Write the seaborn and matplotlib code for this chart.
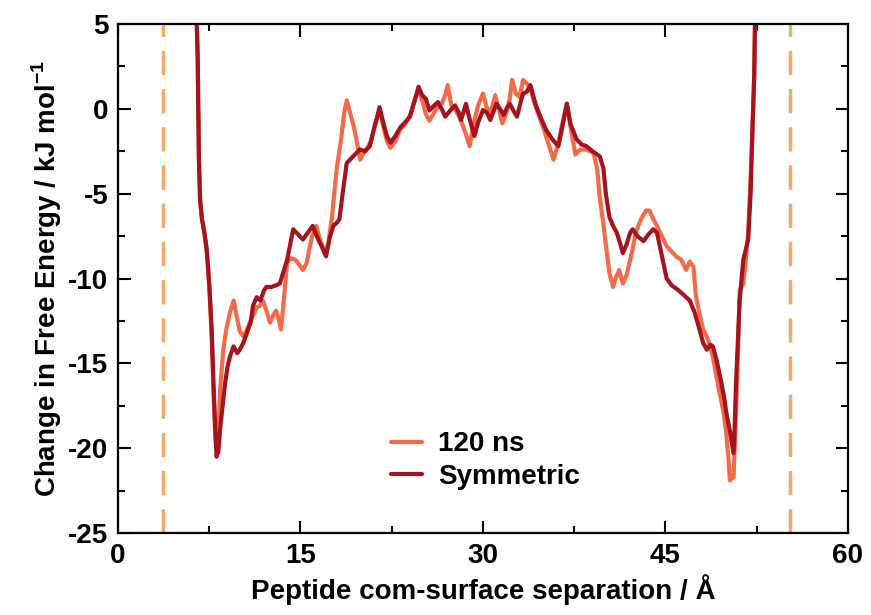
import numpy as np
import pandas as pd
import matplotlib
matplotlib.use("Agg")
import matplotlib.pyplot as plt
import seaborn as sns
from matplotlib.ticker import MultipleLocator
from matplotlib.lines import Line2D

# ---- data ----
sym_x = [6.4, 6.55, 6.6, 6.65, 6.75, 6.9, 7.1, 7.3, 7.5, 7.7, 7.85, 8.0, 8.1, 8.25, 8.4, 8.6, 8.8, 9.0, 9.2, 9.5,
         9.8, 10.0, 10.3, 10.6, 10.9, 11.1, 11.4, 11.7, 12.0, 12.2, 12.6, 13.0, 13.3, 13.6, 13.9, 14.2, 14.4, 14.8,
         15.2, 15.6, 16.0, 16.4, 16.8, 17.1, 17.4, 17.7, 18.0, 18.2, 18.5, 18.8, 19.2, 19.6, 19.9, 20.3, 20.7, 21.0,
         21.3, 21.5, 21.8, 22.1, 22.4, 22.8, 23.2, 23.6, 24.0, 24.4, 24.7, 25.0, 25.3, 25.6, 26.0, 26.3, 26.6, 26.9,
         27.3, 27.7, 28.0, 28.2, 28.6, 28.9, 29.3, 29.6, 30.0, 30.3, 30.6, 30.9, 31.1, 31.4, 31.7, 32.0, 32.2, 32.5,
         32.8, 33.1, 33.3, 33.6, 33.9, 34.2, 34.4, 34.8, 35.2, 35.7, 36.2, 36.6, 36.9, 37.2, 37.7, 38.1, 38.5, 39.0,
         39.6, 39.9, 40.1, 40.4, 40.7, 41.0, 41.3, 41.5, 41.8, 42.1, 42.3, 42.7, 43.2, 43.6, 44.0, 44.3, 44.6, 45.1,
         45.5, 45.9, 46.4, 47.0, 47.4, 47.8, 48.1, 48.4, 48.7, 48.9, 49.2, 49.5, 49.8, 50.0, 50.3, 50.6, 50.7, 50.8,
         51.0, 51.1, 51.4, 51.8, 52.0, 52.1, 52.3, 52.4]
sym_y = [7, 3, 0, -3, -5.4, -6.5, -7.3, -8.3, -10.3, -13, -16.2, -19, -20.5, -20.2, -18.8, -17.5, -16.2, -15.2, -14.6, -14.0,
         -14.4, -14.2, -13.8, -13.2, -12.6, -11.6, -11.1, -11.3, -10.7, -10.5, -10.5, -10.4, -10.3, -9.6, -8.9, -7.8, -7.1, -7.4,
         -7.7, -7.3, -6.9, -7.6, -8.2, -8.7, -7.6, -6.9, -6.7, -6.5, -4.8, -3.2, -2.9, -2.6, -2.4, -2.5, -2.2, -1.3,
         -0.5, 0.1, -0.8, -1.6, -2.0, -1.6, -1.1, -0.8, -0.46, 0.5, 1.3, 0.8, 0.6, -0.1, 0.2, 0.4, 0.0, -0.46,
         -0.1, 0.2, -0.2, -0.66, 0.3, -0.6, -1.6, -0.8, -0.07, -0.2, -0.66, -0.1, 0.3, 0.0, -0.36, 0.1, 0.3, -0.1,
         -0.46, 0.4, 0.9, 1.0, 1.4, 0.6, 0.1, -0.6, -1.25, -1.8, -2.2, -0.8, 0.3, -0.9, -1.8, -2.1, -2.2, -2.5,
         -2.8, -3.5, -5.0, -6.4, -6.9, -7.3, -8.0, -8.5, -8.0, -7.3, -7.1, -7.5, -7.8, -7.4, -7.1, -7.3, -8.3, -10.0,
         -10.4, -10.6, -10.9, -11.3, -12.0, -13.0, -13.8, -14.2, -13.9, -14.0, -14.8, -15.8, -16.9, -17.9, -19.0, -20.3, -18.5, -16.2,
         -13, -11.3, -8.9, -7.7, -5.0, -2.4, 2, 7]

ns_x = [6.4, 6.55, 6.6, 6.65, 6.75, 6.9, 7.1, 7.3, 7.5, 7.7, 7.85, 8.0, 8.1, 8.25, 8.4, 8.65, 8.9, 9.2, 9.5, 9.8,
        10.0, 10.3, 10.6, 10.9, 11.1, 11.4, 11.7, 11.9, 12.2, 12.5, 12.8, 13.0, 13.2, 13.4, 13.6, 13.9, 14.2, 14.6,
        15.2, 15.5, 15.8, 16.0, 16.3, 16.6, 17.0, 17.3, 17.6, 17.8, 18.0, 18.3, 18.6, 18.8, 19.1, 19.4, 19.6, 19.9,
        20.2, 20.5, 20.8, 21.2, 21.5, 21.8, 22.1, 22.4, 22.8, 23.2, 23.6, 24.0, 24.4, 24.7, 25.0, 25.3, 25.6, 26.0,
        26.3, 26.6, 26.9, 27.1, 27.4, 27.7, 28.0, 28.3, 28.6, 28.9, 29.2, 29.6, 30.0, 30.3, 30.6, 31.0, 31.3, 31.6,
        31.9, 32.2, 32.4, 32.7, 33.0, 33.3, 33.6, 33.9, 34.2, 34.6, 35.0, 35.4, 35.8, 36.2, 36.6, 36.9, 37.2, 37.6,
        38.0, 38.5, 39.1, 39.4, 39.6, 39.9, 40.1, 40.4, 40.7, 40.9, 41.2, 41.5, 41.8, 42.2, 42.6, 43.0, 43.4, 43.7,
        44.0, 44.3, 44.7, 45.1, 45.5, 45.9, 46.3, 46.7, 47.0, 47.3, 47.5, 47.8, 48.1, 48.5, 48.9, 49.2, 49.5, 49.8,
        50.0, 50.2, 50.3, 50.6, 50.8, 51.0, 51.1, 51.4, 51.6, 51.8, 52.0, 52.1, 52.3, 52.4]
ns_y = [7, 3, 0, -3, -5.4, -6.5, -7.3, -8.5, -10.5, -13.5, -16.8, -19.3, -20.0, -19.0, -16.5, -14.2, -13.0, -12.0, -11.3, -12.4,
        -13.1, -13.4, -13.0, -12.5, -12.2, -11.7, -11.6, -11.3, -11.9, -12.6, -12.1, -11.9, -12.4, -13.0, -11.5, -9.1, -8.8, -8.9,
        -9.5, -9.1, -8.0, -7.4, -6.9, -7.7, -8.5, -7.9, -6.3, -4.8, -3.4, -2.0, -0.2, 0.5, -0.3, -1.1, -1.8, -3.0,
        -2.6, -2.3, -1.9, -0.7, -0.1, -1.0, -1.9, -2.3, -1.9, -1.2, -0.9, -0.4, 0.6, 1.1, 0.5, -0.3, -0.7, -0.2,
        0.1, 0.3, 0.8, 1.4, 0.2, 0.0, -0.4, -0.9, -1.5, -2.2, -1.0, 0.2, 0.9, 0.1, -0.3, 0.8, 0.0, -0.85,
        -0.3, 0.6, 1.7, 0.9, 0.7, 1.7, 1.5, 1.2, 0.4, -0.4, -1.2, -2.1, -3.0, -2.0, -0.6, 0.3, -1.1, -2.7,
        -2.4, -2.4, -2.6, -3.6, -5.2, -6.8, -8.0, -9.7, -10.5, -10.0, -9.5, -10.3, -9.8, -8.6, -7.2, -6.5, -6.0, -6.0,
        -6.5, -6.9, -7.5, -8.1, -8.4, -8.7, -8.9, -9.5, -9.0, -9.3, -11.0, -12.1, -13.0, -13.6, -14.6, -15.8, -16.9, -18.0,
        -19.1, -20.8, -21.9, -21.7, -18, -13.5, -10.7, -10.3, -9.0, -7.3, -4, -2.4, 2, 7]

series_names = ["120 ns", "Symmetric"]
bound_x = [3.7, 55.2]
x_ticks = [0, 15, 30, 45, 60]
y_ticks = [-25, -20, -15, -10, -5, 0, 5]

colors = {"120 ns": "#f26a4a", "Symmetric": "#a3141c"}
dash_color = "#f6aa66"

df = pd.concat([
    pd.DataFrame({"x": ns_x, "y": ns_y, "series": "120 ns"}),
    pd.DataFrame({"x": sym_x, "y": sym_y, "series": "Symmetric"}),
], ignore_index=True)

sns.set_theme(style="ticks")
plt.rcParams["font.family"] = ["Liberation Sans", "DejaVu Sans"]
plt.rcParams["font.weight"] = "bold"
plt.rcParams["axes.unicode_minus"] = False
plt.rcParams["text.color"] = "black"
plt.rcParams["axes.labelcolor"] = "black"
plt.rcParams["xtick.color"] = "black"
plt.rcParams["ytick.color"] = "black"
plt.rcParams["mathtext.fontset"] = "custom"
plt.rcParams["mathtext.rm"] = "Liberation Sans:bold"
plt.rcParams["mathtext.bf"] = "Liberation Sans:bold"

fig = plt.figure(figsize=(8.71, 6.15), dpi=100)
ax = fig.add_axes([0.1355, 0.1333, 0.838, 0.8277])

for name in series_names:
    sub = df[df["series"] == name]
    sns.lineplot(data=sub, x="x", y="y", sort=False, estimator=None, ax=ax,
                 color=colors[name], lw=3.0, legend=False)

for bx in bound_x:
    ax.axvline(bx, color=dash_color, lw=2.5, dashes=(7, 4))

ax.set_xlim(0, 60)
ax.set_ylim(-25, 5)
ax.set_xticks(x_ticks)
ax.set_yticks(y_ticks)
ax.xaxis.set_minor_locator(MultipleLocator(7.5))
ax.yaxis.set_minor_locator(MultipleLocator(2.5))
ax.tick_params(which="both", direction="in", top=True, right=True, width=1.5, color="black",
               labelcolor="black")
ax.tick_params(which="major", length=9, labelsize=20, pad=7)
ax.tick_params(which="minor", length=5)
for lab in ax.get_xticklabels() + ax.get_yticklabels():
    lab.set_fontweight("bold")
for s in ax.spines.values():
    s.set_linewidth(1.6)
    s.set_color("black")

ax.set_xlabel("Peptide com-surface separation / Å", fontsize=20, fontweight="bold", labelpad=4, color="black")
ax.set_ylabel(r"Change in Free Energy / kJ mol$^{\mathbf{-1}}$", fontsize=20, fontweight="bold", labelpad=3,
              color="black")

handles = [Line2D([0], [0], color=colors[n], lw=3.0) for n in series_names]
leg = ax.legend(handles, series_names, loc="lower left", bbox_to_anchor=(0.34, 0.035), frameon=False,
                prop={"size": 20, "weight": "bold"}, handlelength=1.1, handletextpad=0.6, labelspacing=0.25)
for t in leg.get_texts():
    t.set_color("black")

fig.savefig("out.png", dpi=100)
